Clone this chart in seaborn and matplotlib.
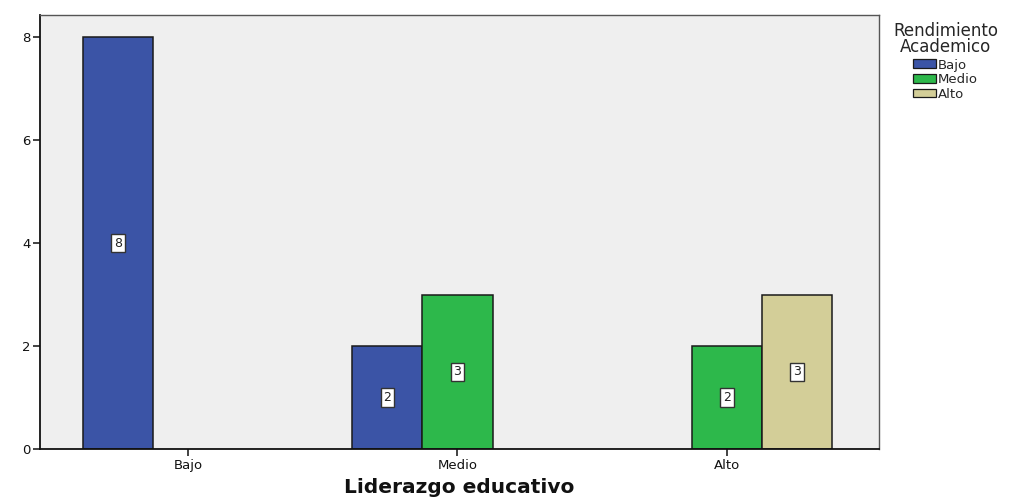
import matplotlib
matplotlib.use("Agg")
import matplotlib.pyplot as plt
import seaborn as sns
import pandas as pd
from matplotlib.patches import Patch

# Counts of academic performance (hue) within each leadership level (x)
liderazgo = ["Bajo", "Medio", "Medio", "Alto", "Alto"]
rendimiento = ["Bajo", "Bajo", "Medio", "Medio", "Alto"]
recuento = [8, 2, 3, 2, 3]

niveles = ["Bajo", "Medio", "Alto"]
colores = {"Bajo": "#3B54A6", "Medio": "#2DB84B", "Alto": "#D3CE98"}

df = pd.DataFrame({"Liderazgo": liderazgo, "Rendimiento": rendimiento, "Recuento": recuento})

sns.set_style("white")
plt.rcParams["font.family"] = ["DejaVu Sans"]

fig = plt.figure(figsize=(10.34, 4.97), dpi=100)
ax = fig.add_axes([0.0387, 0.0966, 0.8114, 0.8732])
ax.set_facecolor("#EFEFEF")

sns.barplot(data=df, x="Liderazgo", y="Recuento", hue="Rendimiento",
            order=niveles, hue_order=niveles, palette=colores,
            width=0.78, edgecolor="#1a1a1a", linewidth=1.1, saturation=1,
            errorbar=None, legend=False, ax=ax)

# Boxed value labels at mid-height of each bar
for patch in ax.patches:
    h = patch.get_height()
    if h and h > 0:
        ax.text(patch.get_x() + patch.get_width() / 2, h / 2, f"{int(h)}",
                ha="center", va="center", fontsize=9, color="#222222",
                bbox=dict(boxstyle="square,pad=0.22", facecolor="white",
                          edgecolor="#333333", linewidth=1.0))

ax.set_xlim(-0.549, 2.564)
ax.set_ylim(0, 8.43)
ax.set_yticks([0, 2, 4, 6, 8])
ax.tick_params(axis="both", which="major", direction="out", length=5, width=1.2,
               color="#222222", labelsize=9.5, pad=2, bottom=True, left=True,
               labelcolor="#111111")
ax.set_xlabel("Liderazgo educativo", fontsize=14.5, fontweight="bold",
              labelpad=4.5, color="#111111")
ax.set_ylabel("")

for side in ["left", "bottom"]:
    ax.spines[side].set_color("#111111")
    ax.spines[side].set_linewidth(1.3)
for side in ["top", "right"]:
    ax.spines[side].set_color("#555555")
    ax.spines[side].set_linewidth(1.0)

handles = [Patch(facecolor=colores[n], edgecolor="#1a1a1a", linewidth=0.9, label=n)
           for n in niveles]
leg = fig.legend(handles=handles, title="Rendimiento\nAcademico",
                 loc="upper left", bbox_to_anchor=(0.856, 0.972),
                 frameon=False, fontsize=9.5, title_fontsize=12,
                 handlelength=1.7, handleheight=0.65, handletextpad=0.15,
                 labelspacing=0.12, borderpad=0.1)
leg.get_title().set_multialignment("center")
leg.get_title().set_linespacing(0.85)
leg._legend_box.align = "center"
leg._legend_box.sep = 2

fig.savefig("out.png", dpi=100)
